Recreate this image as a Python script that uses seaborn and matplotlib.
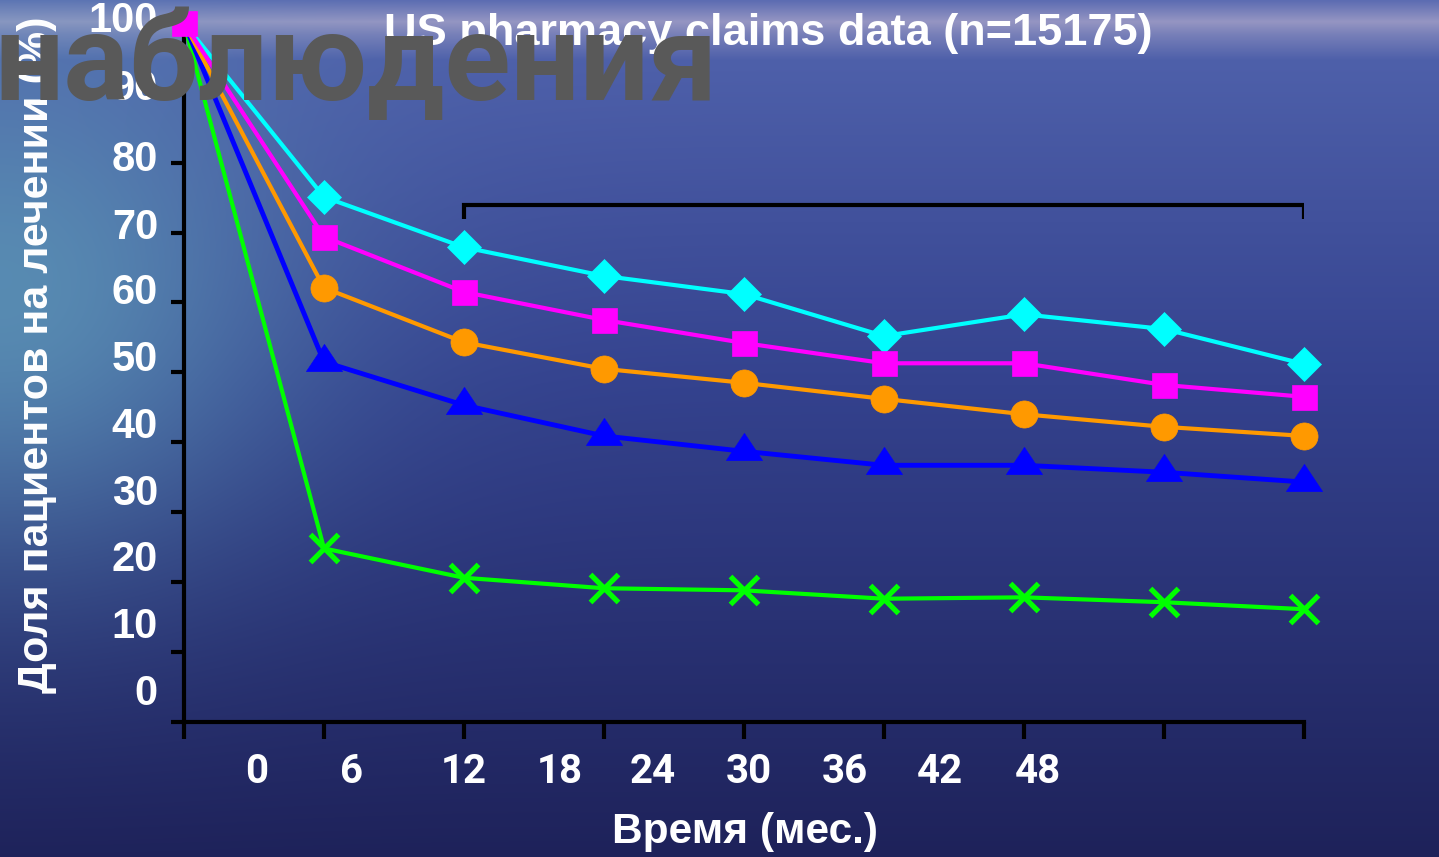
import numpy as np
import pandas as pd
import matplotlib
matplotlib.use("Agg")
import matplotlib.pyplot as plt
import seaborn as sns
from matplotlib.path import Path

# ---------------- data ----------------
months = [0, 6, 12, 18, 24, 30, 36, 42, 48]
series_names = ["cyan", "magenta", "orange", "blue", "green"]
cyan_vals = [100, 75.1, 67.9, 63.8, 61.2, 55.2, 58.3, 56.2, 51.2]
magenta_vals = [100, 69.4, 61.5, 57.5, 54.2, 51.3, 51.3, 48.2, 46.5]
orange_vals = [100, 62.1, 54.3, 50.5, 48.5, 46.2, 44.0, 42.2, 40.9]
blue_vals = [100, 51.5, 45.3, 40.9, 38.7, 36.7, 36.7, 35.7, 34.3]
green_vals = [100, 24.8, 20.6, 19.1, 18.8, 17.6, 17.8, 17.1, 16.1]

xtick_labels = ["0", "6", "12", "18", "24", "30", "36", "42", "48"]
ytick_labels = ["0", "10", "20", "30", "40", "50", "60", "70", "80", "90", "100"]
title_text = "US pharmacy claims data (n=15175)"
overlay_text = "наблюдения"
xlabel_text = "Время (мес.)"
ylabel_text = "Доля пациентов на лечении (%)"
bracket_x = [12, 12, 48, 48]
bracket_y = [72.0, 74.0, 74.0, 72.0]

# ---------------- style ----------------
sns.set_style("ticks")
plt.rcParams["font.family"] = ["Liberation Sans", "DejaVu Sans"]

W, H = 1439, 857
fig = plt.figure(figsize=(W / 100, H / 100), dpi=100)

# background: sea-like gradient
yy, xx = np.mgrid[0:1:H * 1j, 0:1:W * 1j]
stops_y = [0.0, 0.025, 0.04, 0.07, 0.45, 1.0]
stops_c = np.array([[92, 108, 178], [150, 150, 195], [120, 128, 185],
                    [78, 96, 170], [52, 66, 142], [30, 34, 90]], float)
img = np.zeros((H, W, 3))
for c in range(3):
    img[:, :, c] = np.interp(yy[:, 0], stops_y, stops_c[:, c])[:, None]
glow = np.exp(-(xx / 0.2) ** 2) * np.exp(-((yy - 0.35) / 0.3) ** 2)
glow_c = np.array([95, 155, 185], float)
img = img * (1 - 0.8 * glow[..., None]) + glow_c * 0.8 * glow[..., None]
bg = fig.add_axes([0, 0, 1, 1])
bg.imshow(img.astype(np.uint8), aspect="auto", extent=[0, 1, 0, 1])
bg.axis("off")
bg.set_zorder(-5)

# main axes
ax_left, ax_right = 184 / W, 1304 / W
ax_bottom, ax_top = 1 - 721.7 / H, 1 - 23 / H
ax = fig.add_axes([ax_left, ax_bottom, ax_right - ax_left, ax_top - ax_bottom])
ax.patch.set_alpha(0)
ax.set_xlim(0, 48)
ax.set_ylim(0, 100)

tri = Path([(-1, -0.5), (1, -0.5), (0, 1.0), (-1, -0.5)],
           [Path.MOVETO, Path.LINETO, Path.LINETO, Path.CLOSEPOLY])

styles = {
    "green": dict(color="#00FF00", marker="x", ms=20, mew=3.8, lw=3,
                  every=list(range(1, 9))),
    "blue": dict(color="#0000FF", marker=tri, ms=26, mew=0.5, lw=3.5,
                 every=list(range(1, 9))),
    "orange": dict(color="#FF9900", marker="o", ms=19.5, mew=0.5, lw=3,
                   every=list(range(1, 9))),
    "cyan": dict(color="#00FFFF", marker="D", ms=17, mew=0.5, lw=3,
                 every=list(range(1, 9))),
    "magenta": dict(color="#FF00FF", marker="s", ms=18, mew=0.5, lw=3,
                    every=list(range(0, 9))),
}
vals = {"cyan": cyan_vals, "magenta": magenta_vals, "orange": orange_vals,
        "blue": blue_vals, "green": green_vals}
for name in ["green", "blue", "orange", "cyan", "magenta"]:
    st = styles[name]
    df = pd.DataFrame({"month": months, "value": vals[name]})
    sns.lineplot(data=df, x="month", y="value", ax=ax, color=st["color"],
                 marker=st["marker"], markersize=st["ms"],
                 markeredgecolor=st["color"], markerfacecolor=st["color"],
                 markeredgewidth=st["mew"], linewidth=st["lw"], clip_on=False,
                 markevery=st["every"], zorder=3)

# bracket
ax.plot(bracket_x, bracket_y, color="black", lw=3, solid_capstyle="butt",
        solid_joinstyle="miter", zorder=2)

# spines and ticks
for s in ["top", "right"]:
    ax.spines[s].set_visible(False)
for s in ["left", "bottom"]:
    ax.spines[s].set_color("black")
    ax.spines[s].set_linewidth(3)
ax.set_xticks(months)
ax.set_xticklabels([""] * len(months))
ax.set_yticks(range(0, 101, 10))
ax.set_yticklabels([""] * 11)
ax.tick_params(axis="x", direction="out", length=12, width=3, color="black")
ax.tick_params(axis="y", direction="out", length=9.5, width=3, color="black")
ax.set_xlabel("")
ax.set_ylabel("")

# tick labels placed like in the slide (offset from ticks)
xlab_pos = [3.1, 7.2, 12.0, 16.1, 20.1, 24.2, 28.3, 32.4, 36.6]
for p, t in zip(xlab_pos, xtick_labels):
    ax.text(p, -7.2, t, ha="center", va="center", fontsize=29,
            fontweight="bold", color="white", clip_on=False,
            family=["Roboto", "Liberation Sans"])
ylab_pos = [3.9, 13.6, 23.2, 32.6, 42.2, 51.7, 61.3, 70.7, 80.4, 90.5, 100.3]
for p, t in zip(ylab_pos, ytick_labels):
    ax.text(-26 / 1120 * 48, p, t, ha="right", va="center", fontsize=30,
            fontweight="bold", color="white", clip_on=False)

# texts
fig.text(768 / W, 1 - 33 / H, title_text, ha="center", va="center",
         fontsize=32.5, fontweight="bold", color="white", zorder=3)
fig.text(37 / W, 1 - 355 / H, ylabel_text, rotation=90, ha="center",
         va="center", fontsize=31, fontweight="bold", color="white")
fig.text(745 / W, 1 - 832 / H, xlabel_text, ha="center", va="center",
         fontsize=30.5, fontweight="bold", color="white")
fig.text(-6 / W, 1 - 100 / H, overlay_text, ha="left", va="baseline",
         fontsize=88, fontweight="bold", color="#595959", zorder=6,
         family=["Roboto", "Liberation Sans"])

fig.savefig("out.png", dpi=100)
